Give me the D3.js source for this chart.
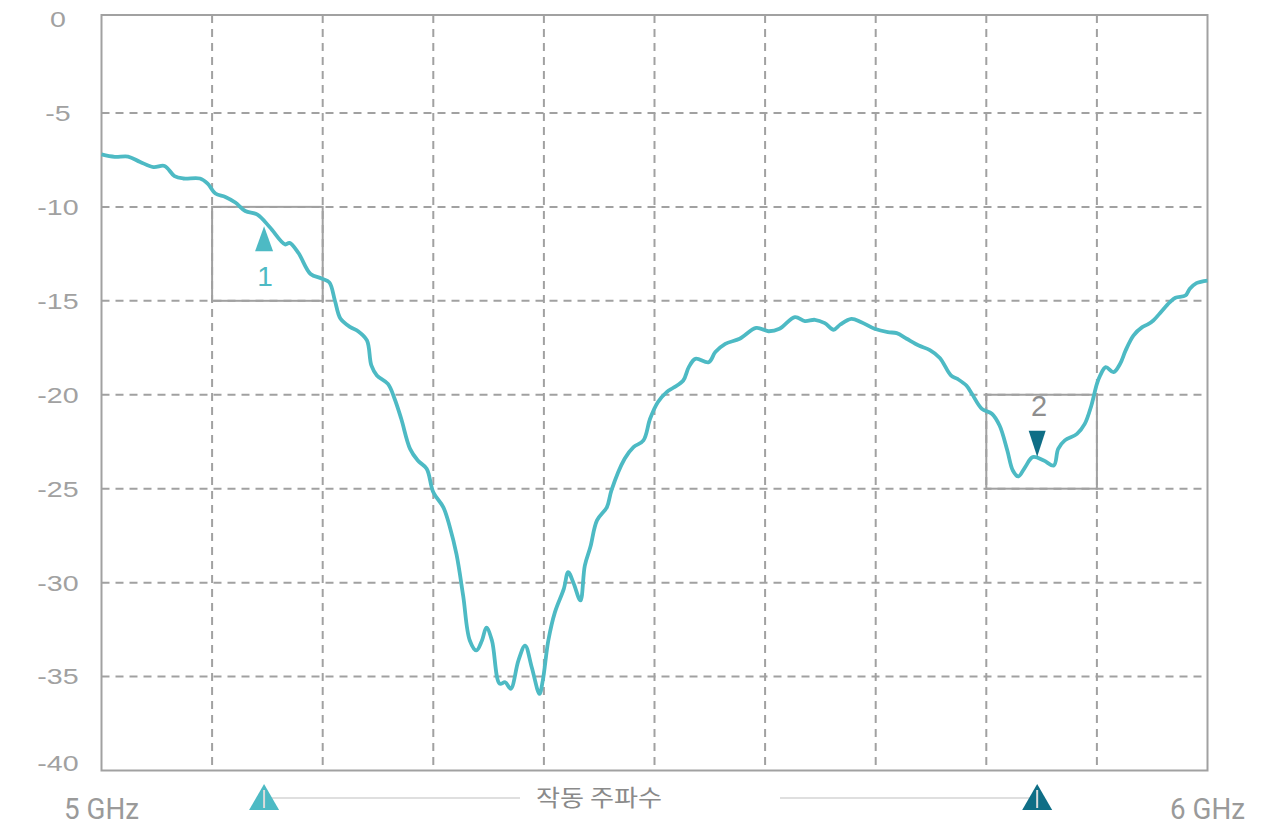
<!DOCTYPE html>
<html>
<head>
<meta charset="utf-8">
<script src="https://cdn.jsdelivr.net/npm/d3@7/dist/d3.min.js"></script>
<style>
  body { margin: 0; background: #ffffff; }
  svg { display: block; }
</style>
</head>
<body>
<svg id="chart" width="1279" height="832"></svg>
<script>
// Measured trace: frequency (MHz) and return loss (dB)
const freqMHz = [5000,5012,5024,5035,5047,5057,5066,5074,5089,5096,5103,5112,5121,5130,5141,5152,5166,5170,5178,5189,
  5199,5206,5211,5216,5225,5232,5240,5244,5249,5259,5265,5271,5279,5286,5294,5300,5309,5315,5321,5327,
  5333,5339,5344,5348,5353,5360,5365,5370,5377,5383,5389,5396,5399,5404,5410,5418,5422,5427,5433,5437,
  5442,5448,5457,5461,5473,5481,5490,5496,5503,5511,5517,5526,5531,5537,5549,5555,5564,5577,5592,5603,
  5613,5627,5636,5645,5654,5662,5668,5678,5687,5699,5711,5719,5728,5739,5749,5758,5768,5774,5782,5787,
  5796,5805,5812,5819,5824,5829,5835,5842,5852,5861,5865,5871,5882,5889,5895,5900,5903,5908,5915,5921,
  5926,5933,5941,5946,5951,5957,5966,5971,5980,5984,5990,6000];
const lossDb = [-7.21,-7.34,-7.32,-7.61,-7.88,-7.82,-8.36,-8.49,-8.49,-8.76,-9.29,-9.47,-9.77,-10.22,-10.41,-11.07,-12.00,-11.92,-12.45,-13.57,
  -13.81,-14.02,-14.98,-15.94,-16.40,-16.62,-17.11,-18.44,-18.97,-19.42,-20.21,-21.28,-22.88,-23.50,-23.94,-25.19,-25.98,-27.05,-28.50,-30.70,
  -33.08,-33.61,-33.08,-32.40,-33.08,-35.38,-35.30,-35.65,-34.14,-33.35,-34.50,-35.92,-35.21,-33.08,-31.57,-30.33,-29.44,-30.06,-30.95,-29.09,
  -28.11,-26.69,-25.98,-25.10,-23.41,-22.79,-22.43,-21.28,-20.40,-19.86,-19.63,-19.24,-18.53,-18.09,-18.27,-17.73,-17.29,-17.02,-16.44,-16.62,
  -16.49,-15.87,-16.08,-16.01,-16.19,-16.54,-16.26,-15.96,-16.14,-16.49,-16.67,-16.72,-17.02,-17.38,-17.62,-18.04,-18.97,-19.16,-19.51,-19.95,
  -20.75,-21.01,-21.64,-22.97,-24.03,-24.35,-23.86,-23.32,-23.50,-23.77,-22.88,-22.43,-22.08,-21.55,-20.57,-19.42,-18.97,-18.53,-18.80,-18.35,
  -17.64,-16.85,-16.40,-16.26,-16.05,-15.66,-15.07,-14.84,-14.72,-14.36,-14.06,-13.92];

// Axis ticks and labels
const yTicks = [0, -5, -10, -15, -20, -25, -30, -35, -40];
const xGridMHz = [5100, 5200, 5300, 5400, 5500, 5600, 5700, 5800, 5900];
const xEndMHz = [5000, 6000];
const xEndLabels = ["5 GHz", "6 GHz"];

// Markers
const markerIds = ["1", "2"];
const markerMHz = [5147, 5846];
const markerDb = [-10.6, -23.3];
const markerBoxMHz = [[5100, 5200], [5800, 5900]];
const markerBoxDb = [[-10, -15], [-20, -25]];
const bandLabel = "작동 주파수";

const lineColor = "#4dbac4";
const markerColors = ["#4dbac4", "#0f6e86"];
const gray = "#a1a1a1";

const svg = d3.select("#chart");

// Scales
const x = d3.scaleLinear().domain([5000, 6000]).range([101.5, 1207.5]);
const y = d3.scaleLinear().domain([-40, 0]).range([770.5, 19]);

// Dashed grid
svg.append("g")
  .selectAll("line")
  .data(yTicks.filter(v => v < 0 && v > -40))
  .join("line")
  .attr("x1", x(5000)).attr("x2", x(6000))
  .attr("y1", d => y(d)).attr("y2", d => y(d))
  .attr("stroke", gray).attr("stroke-width", 2)
  .attr("stroke-dasharray", "8,6");

svg.append("g")
  .selectAll("line")
  .data(xGridMHz)
  .join("line")
  .attr("x1", d => x(d)).attr("x2", d => x(d))
  .attr("y1", 15).attr("y2", y(-40))
  .attr("stroke", gray).attr("stroke-width", 2)
  .attr("stroke-dasharray", "8,6");

// Plot frame
svg.append("rect")
  .attr("x", x(5000)).attr("y", 15)
  .attr("width", x(6000) - x(5000))
  .attr("height", y(-40) - 15)
  .attr("fill", "none")
  .attr("stroke", gray).attr("stroke-width", 2);

// Marker boxes
markerIds.forEach((id, i) => {
  svg.append("rect")
    .attr("x", x(markerBoxMHz[i][0]))
    .attr("y", y(markerBoxDb[i][0]))
    .attr("width", x(markerBoxMHz[i][1]) - x(markerBoxMHz[i][0]))
    .attr("height", y(markerBoxDb[i][1]) - y(markerBoxDb[i][0]))
    .attr("fill", "none")
    .attr("stroke", gray).attr("stroke-width", 2);
});

// Y labels (slightly stretched horizontally like the original)
svg.append("g")
  .selectAll("g")
  .data(yTicks)
  .join("g")
  .attr("transform", d => `translate(58, ${y(d) + (d === -40 ? -7 : 0)}) scale(1.3,1)`)
  .append("text")
  .attr("text-anchor", "middle")
  .attr("dy", "0.36em")
  .style("font-family", "'Liberation Sans', Arial, sans-serif")
  .style("font-size", "22px")
  .style("fill", gray)
  .text(d => d);

// X end labels
svg.append("g")
  .selectAll("text")
  .data(xEndMHz)
  .join("text")
  .attr("x", d => x(d))
  .attr("y", 809)
  .attr("dy", "0.36em")
  .attr("text-anchor", "middle")
  .attr("textLength", 75)
  .attr("lengthAdjust", "spacingAndGlyphs")
  .style("font-family", "Roboto, sans-serif")
  .style("font-size", "29px")
  .style("fill", "#9a9a9a")
  .text((d, i) => xEndLabels[i]);

// Trace
const line = d3.line()
  .x(d => x(d[0]))
  .y(d => y(d[1]))
  .curve(d3.curveCatmullRom.alpha(0.5));

svg.append("path")
  .datum(d3.zip(freqMHz, lossDb))
  .attr("fill", "none")
  .attr("stroke", lineColor)
  .attr("stroke-width", 3.8)
  .attr("stroke-linejoin", "round")
  .attr("d", line);

// Marker 1: up triangle under the trace, label below
{
  const mx = x(markerMHz[0]);
  const top = y(markerDb[0]) + 8;
  svg.append("path")
    .attr("d", `M${mx},${top} L${mx + 9},${top + 25} L${mx - 9},${top + 25} Z`)
    .attr("fill", markerColors[0]);
  svg.append("text")
    .attr("x", mx + 1).attr("y", top + 60)
    .attr("text-anchor", "middle")
    .style("font-family", "'Liberation Sans', Arial, sans-serif")
    .style("font-size", "28px")
    .style("fill", markerColors[0])
    .text(markerIds[0]);
}

// Marker 2: down triangle above the trace, label above
{
  const mx = x(markerMHz[1]);
  const tip = y(markerDb[1]);
  svg.append("path")
    .attr("d", `M${mx},${tip} L${mx + 8.5},${tip - 26} L${mx - 8.5},${tip - 26} Z`)
    .attr("fill", markerColors[1]);
  svg.append("text")
    .attr("x", mx + 2).attr("y", tip - 41)
    .attr("text-anchor", "middle")
    .style("font-family", "'Liberation Sans', Arial, sans-serif")
    .style("font-size", "29px")
    .style("fill", "#8e8e8e")
    .text(markerIds[1]);
}

// Operating band indicator under the axis
const bandY = 798;
svg.append("line")
  .attr("x1", x(markerMHz[0])).attr("x2", 520)
  .attr("y1", bandY).attr("y2", bandY)
  .attr("stroke", "#d4d4d4").attr("stroke-width", 1.5);
svg.append("line")
  .attr("x1", 780).attr("x2", x(markerMHz[1]))
  .attr("y1", bandY).attr("y2", bandY)
  .attr("stroke", "#d4d4d4").attr("stroke-width", 1.5);

markerMHz.forEach((f, i) => {
  const mx = x(f);
  svg.append("path")
    .attr("d", `M${mx},784 L${mx + 15},810 L${mx - 15},810 Z`)
    .attr("fill", markerColors[i]);
  svg.append("line")
    .attr("x1", mx).attr("x2", mx)
    .attr("y1", 790).attr("y2", 808)
    .attr("stroke", "#dcdcdc").attr("stroke-width", 2);
});

svg.append("text")
  .attr("x", 536).attr("y", bandY)
  .attr("dy", "0.36em")
  .attr("textLength", 126)
  .attr("lengthAdjust", "spacingAndGlyphs")
  .style("font-family", "'Noto Sans CJK KR', sans-serif")
  .style("font-size", "23px")
  .style("fill", "#8a8a8a")
  .text(bandLabel);
</script>
</body>
</html>
